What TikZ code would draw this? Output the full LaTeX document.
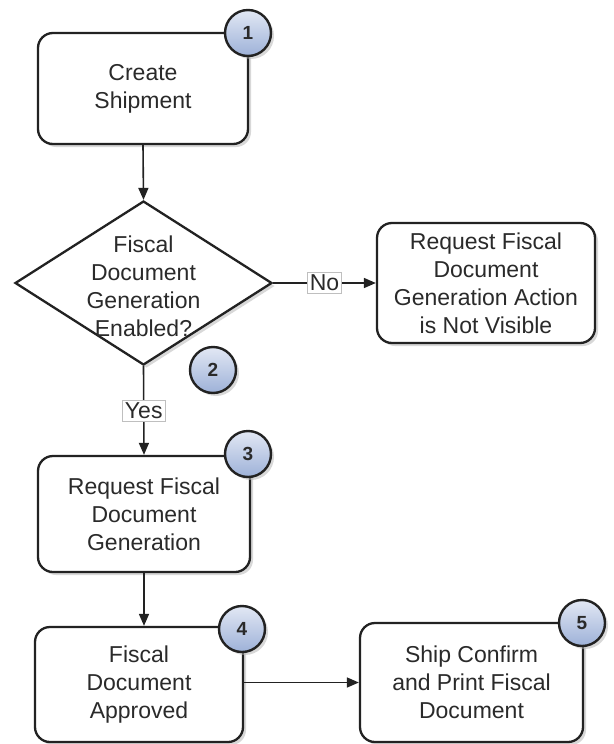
\documentclass[tikz,border=0pt]{standalone}
\usepackage{fontspec}
\setmainfont{Liberation Sans}
\usetikzlibrary{shapes.geometric,arrows.meta,shadows}
\definecolor{txt}{HTML}{2A2A2A}
\definecolor{edge}{HTML}{222222}
\definecolor{ctop}{HTML}{E2E8F4}
\definecolor{cbot}{HTML}{9DB1D8}
\begin{document}
\begin{tikzpicture}[x=1pt,y=-1pt,
  every node/.style={text=txt},
  proc/.style={draw=edge, line width=2.3pt, rounded corners=15pt, fill=white,
    align=center, font=\fontsize{23}{28}\selectfont,
    drop shadow={shadow xshift=3pt, shadow yshift=-3pt, fill=black!30, opacity=0.5}},
  dec/.style={draw=edge, line width=2.3pt, diamond, fill=white, inner sep=0pt,
    drop shadow={shadow xshift=3pt, shadow yshift=-3pt, fill=black!30, opacity=0.5}},
  num/.style={circle, draw=edge, line width=2.4pt, minimum size=46pt, inner sep=0pt,
    top color=ctop, bottom color=cbot, font=\fontsize{19}{19}\selectfont\bfseries,
    drop shadow={shadow xshift=3pt, shadow yshift=-3pt, fill=black!30, opacity=0.5}},
  lbl/.style={fill=white, draw=black!25, line width=0.5pt, inner sep=2.5pt,
    font=\fontsize{23}{28}\selectfont},
  conn/.style={draw=edge, line width=1.6pt, -{Triangle[length=12pt,width=10pt]}}
]
\useasboundingbox (0,0) rectangle (613,744);

\node[proc, minimum width=210pt, minimum height=111pt] (b1) at (143,88.5) {Create\\Shipment};
\node[dec, minimum width=257pt, minimum height=164pt] (d) at (143.5,283) {};
\node[align=center, font=\fontsize{23}{28}\selectfont] (dt) at (143.5,286) {Fiscal\\Document\\Generation\\Enabled?};
\node[proc, minimum width=218pt, minimum height=120pt] (side) at (486,283) {Request Fiscal\\Document\\Generation Action\\is Not Visible};
\node[proc, minimum width=212pt, minimum height=116pt] (b3) at (144,514) {Request Fiscal\\Document\\Generation};
\node[proc, minimum width=208pt, minimum height=115pt] (b4) at (139,684.5) {Fiscal\\Document\\Approved};
\node[proc, minimum width=223pt, minimum height=119pt] (b5) at (471.5,682.5) {Ship Confirm\\and Print Fiscal\\Document};

\node[num] (c1) at (248,33) {1};
\node[num] (c2) at (213,370) {2};
\node[num] (c3) at (248,454) {3};
\node[num] (c4) at (242,629) {4};
\node[num] (c5) at (582,623) {5};

\draw[conn] (b1.south) -- (d.north);
\draw[conn] (d.east) -- node[lbl] (no) {No} (side.west);
\draw[conn] (d.south) -- node[lbl] (yes) {Yes} (b3.north);
\draw[conn] (b3.south) -- (b3.south |- b4.north);
\draw[conn] (b4.east |- b5.west) -- (b5.west);
\end{tikzpicture}
\end{document}
